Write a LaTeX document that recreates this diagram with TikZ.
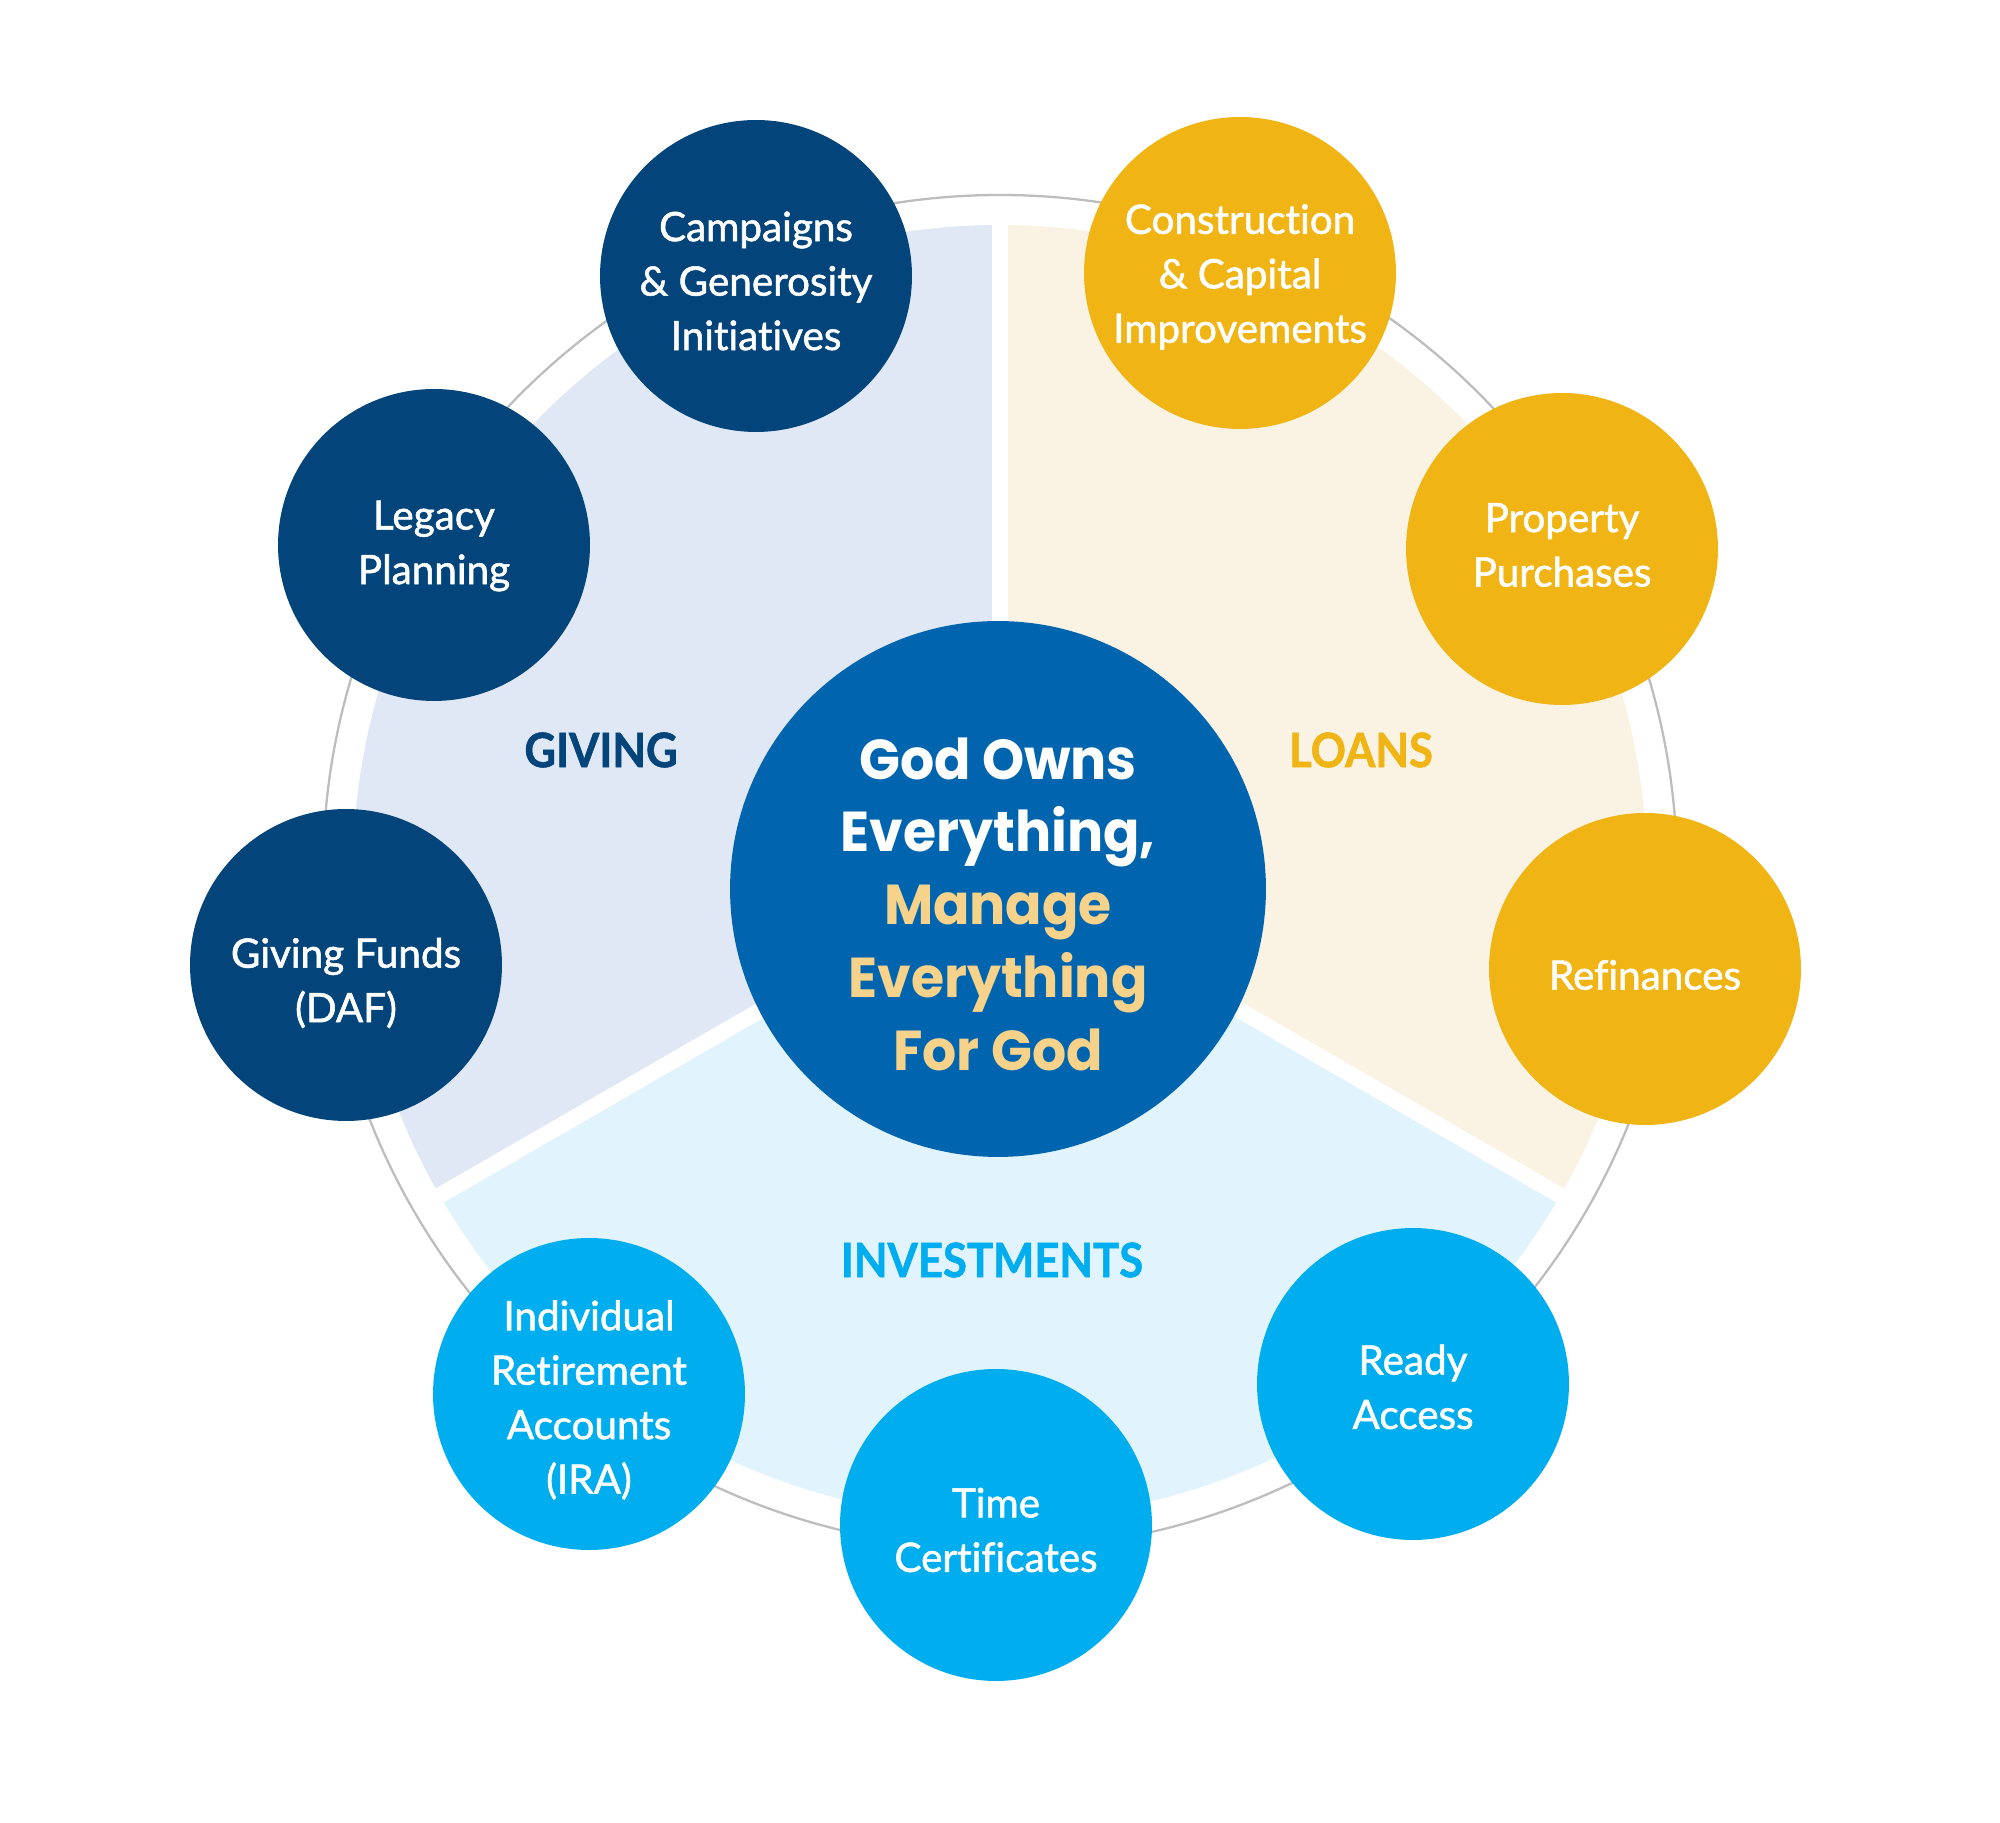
\documentclass[tikz,border=0pt]{standalone}
\usepackage{fontspec}
\usetikzlibrary{calc}
\setmainfont{Lato}
\newfontfamily\circfont[FakeBold=1.4, Ligatures=NoCommon]{Lato}
\newfontfamily\centfont[FakeStretch=0.955]{Poppins}
\newfontfamily\labfont[FakeStretch=0.92, FakeBold=1.2]{Lato}
\definecolor{navy}{HTML}{03457A}
\definecolor{goldc}{HTML}{F0B414}
\definecolor{cyanc}{HTML}{00AEEF}
\definecolor{coreblue}{HTML}{0065AE}
\definecolor{paleg}{HTML}{F7D28A}
\definecolor{givf}{HTML}{E0E8F5}
\definecolor{loanf}{HTML}{FAF3E4}
\definecolor{invf}{HTML}{E1F3FD}
\definecolor{ringg}{HTML}{BDBDC0}
\tikzset{
  smallc/.style={circle, minimum size=6.24cm, inner sep=0pt},
  givc/.style={smallc, fill=navy},
  loanc/.style={smallc, fill=goldc},
  invc/.style={smallc, fill=cyanc},
  ctext/.style={inner sep=0pt, text=white, align=center,
    font=\circfont\fontsize{23}{31}\selectfont},
  secttitle/.style={inner sep=0pt, font=\labfont\bfseries\fontsize{27}{30}\selectfont},
  gapline/.style={white, line width=9.1pt},
}
\begin{document}
\begin{tikzpicture}[x=0.02cm, y=0.02cm]
\useasboundingbox (0,0) rectangle (2000,1822);
\coordinate (O) at (1000,950);
% outer ring
\draw[ringg, line width=1.3pt] (O) circle [radius=677];
% sectors
\fill[givf] (O) -- ++(90:647) arc [start angle=90, end angle=210, radius=647] -- cycle;
\fill[invf] (O) -- ++(210:647) arc [start angle=210, end angle=330, radius=647] -- cycle;
\fill[loanf] (O) -- ++(-30:647) arc [start angle=-30, end angle=90, radius=647] -- cycle;
\draw[gapline] (O) -- ++(90:660);
\draw[gapline] (O) -- ++(210:660);
\draw[gapline] (O) -- ++(330:660);
% core
\node[circle, fill=coreblue, minimum size=10.72cm, inner sep=0pt] (core) at (998,933) {};
\node[align=center, inner sep=0pt, font=\centfont\bfseries\fontsize{32}{41.4}\selectfont] (coretext) at ($(core)+(0,-15)$)
  {\textcolor{white}{God Owns}\\\textcolor{white}{Everything,}\\\textcolor{paleg}{Manage}\\\textcolor{paleg}{Everything}\\\textcolor{paleg}{For God}};
% section titles
\node[secttitle, text=navy] (tgiv) at (601,1072) {GIVING};
\node[secttitle, text=goldc] (tloan) at (1361,1072) {LOANS};
\node[secttitle, text=cyanc] (tinv) at (992,562) {INVESTMENTS};
% giving circles
\node[givc] (camp) at (756,1546) {};
\node[ctext] (campT) at ($(camp)+(0,-5)$) {Campaigns\\\& Generosity\\Initiatives};
\node[givc] (legacy) at (434,1277) {};
\node[ctext] (legacyT) at ($(legacy)+(0,-1)$) {Legacy\\Planning};
\node[givc] (daf) at (346,857) {};
\node[ctext] (dafT) at ($(daf)+(0,-18)$) {Giving Funds\\(DAF)};
% loan circles
\node[loanc] (constr) at (1240,1549) {};
\node[ctext] (constrT) at ($(constr)+(0,-4)$) {Construction\\\& Capital\\Improvements};
\node[loanc] (prop) at (1562,1273) {};
\node[ctext] (propT) at ($(prop)+(0,4)$) {Property\\Purchases};
\node[loanc] (refi) at (1645,853) {};
\node[ctext] (refiT) at ($(refi)+(0,-6)$) {Refinances};
% investment circles
\node[invc] (ira) at (589,428) {};
\node[ctext] (iraT) at ($(ira)+(0,-6)$) {Individual\\Retirement\\Accounts\\(IRA)};
\node[invc] (time) at (996,297) {};
\node[ctext] (timeT) at ($(time)+(0,-5)$) {Time\\Certificates};
\node[invc] (ready) at (1413,438) {};
\node[ctext] (readyT) at ($(ready)+(0,-3)$) {Ready\\Access};
\end{tikzpicture}
\end{document}
